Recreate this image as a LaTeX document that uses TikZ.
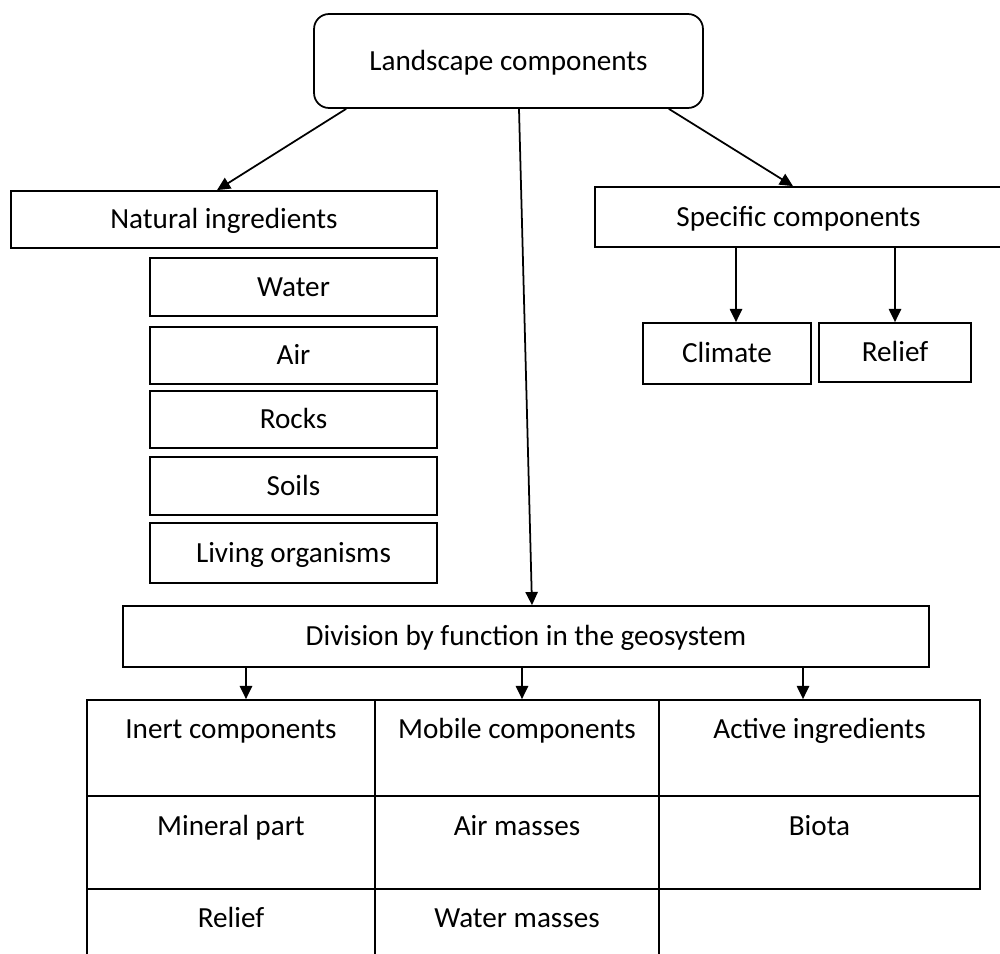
\documentclass[tikz,border=0pt]{standalone}
\usepackage{fontspec}
\setmainfont{Carlito}
\usetikzlibrary{arrows.meta}

\begin{document}
\begin{tikzpicture}[x=0.02cm, y=-0.02cm, line width=1pt,
    every node/.style={font=\fontsize{16.6}{20}\selectfont, text height=11.6pt, text depth=1pt},
    box/.style={draw, rectangle, inner sep=0pt},
    item/.style={box, minimum width=5.74cm, minimum height=1.15cm},
    cell/.style={draw, rectangle, inner sep=0pt},
    arr/.style={-{Triangle[length=7.5pt, width=7pt]}}]

    \useasboundingbox (0,0) rectangle (1000,953);

    % top and the two groups
    \node[box, rounded corners=0.3cm, minimum width=7.78cm, minimum height=1.88cm] (land) at (508.5,61) {Landscape components};
    \node[box, minimum width=8.52cm, minimum height=1.14cm] (natural) at (224,219.5) {Natural ingredients};
    \node[box, minimum width=8.14cm, minimum height=1.2cm] (specific) at (798.5,217) {Specific components};

    \node[item] (water) at (293.5,287) {Water};
    \node[item] (air) at (293.5,355.5) {Air};
    \node[item] (rocks) at (293.5,419.5) {Rocks};
    \node[item] (soils) at (293.5,486) {Soils};
    \node[item, minimum height=1.2cm] (living) at (293.5,553) {Living organisms};

    \node[box, minimum width=3.36cm, minimum height=1.22cm] (climate) at (727,353.5) {Climate};
    \node[box, minimum width=3.04cm, minimum height=1.18cm] (relief) at (895,352.5) {Relief};

    \node[box, minimum width=16.12cm, minimum height=1.22cm] (division) at (526,636.5) {Division by function in the geosystem};

    % table
    \node[cell, minimum width=5.76cm, minimum height=1.92cm] (c11) at (231,748) {};
    \node[cell, minimum width=5.68cm, minimum height=1.92cm] (c12) at (517,748) {};
    \node[cell, minimum width=6.42cm, minimum height=1.92cm] (c13) at (819.5,748) {};
    \node[cell, minimum width=5.76cm, minimum height=1.86cm] (c21) at (231,842.5) {};
    \node[cell, minimum width=5.68cm, minimum height=1.86cm] (c22) at (517,842.5) {};
    \node[cell, minimum width=6.42cm, minimum height=1.86cm] (c23) at (819.5,842.5) {};
    \node[cell, minimum width=5.76cm, minimum height=1.52cm] (c31) at (231,927) {};
    \node[cell, minimum width=5.68cm, minimum height=1.52cm] (c32) at (517,927) {};

    \node (t11) at ([yshift=-0.6cm]c11.north) {Inert components};
    \node (t12) at ([yshift=-0.6cm]c12.north) {Mobile components};
    \node (t13) at ([yshift=-0.6cm]c13.north) {Active ingredients};
    \node (t21) at ([yshift=-0.62cm]c21.north) {Mineral part};
    \node (t22) at ([yshift=-0.62cm]c22.north) {Air masses};
    \node (t23) at ([yshift=-0.62cm]c23.north) {Biota};
    \node (t31) at ([yshift=-0.6cm]c31.north) {Relief};
    \node (t32) at ([yshift=-0.6cm]c32.north) {Water masses};

    % arrows
    \draw[arr] ([xshift=0.66cm]land.south west) -- ([xshift=-0.14cm]natural.north);
    \draw[arr] ([xshift=-0.7cm]land.south east) -- ([xshift=-0.11cm]specific.north);
    \draw[arr] ([xshift=0.21cm]land.south) -- ([xshift=0.12cm]division.north);

    \draw[arr] ([xshift=0.18cm]climate.north |- specific.south) -- ([xshift=0.18cm]climate.north);
    \draw[arr] (relief.north |- specific.south) -- (relief.north);

    \draw[arr] ([xshift=0.3cm]c11.north |- division.south) -- ([xshift=0.3cm]c11.north);
    \draw[arr] ([xshift=0.1cm]c12.north |- division.south) -- ([xshift=0.1cm]c12.north);
    \draw[arr] ([xshift=-0.33cm]c13.north |- division.south) -- ([xshift=-0.33cm]c13.north);

\end{tikzpicture}
\end{document}
